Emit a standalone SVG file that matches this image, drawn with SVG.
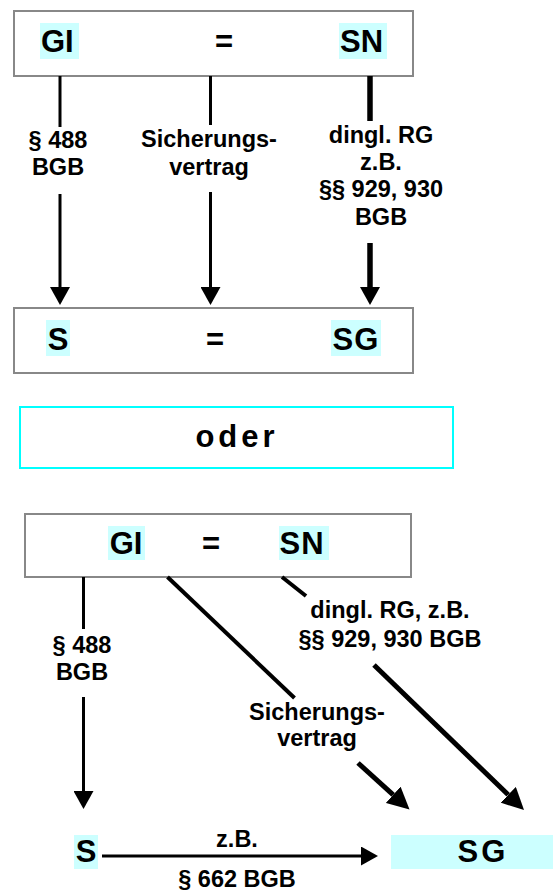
<svg xmlns="http://www.w3.org/2000/svg" width="553" height="893" viewBox="0 0 553 893">
<style>
.box{fill:#fff;stroke:#888;stroke-width:2}
.oder{fill:#fff;stroke:#00ffff;stroke-width:2}
.hl{fill:#ccffff}
.big{font-family:"Liberation Sans",Arial,sans-serif;font-weight:bold;font-size:31px;fill:#000}
.lbl{font-family:"Liberation Sans",Arial,sans-serif;font-weight:bold;font-size:23.5px;fill:#000;text-anchor:middle}
.ln{stroke:#000;fill:none}
</style>
<defs>
<marker id="ah" viewBox="0 0 18 20" refX="0" refY="10" markerWidth="18" markerHeight="20" markerUnits="userSpaceOnUse" orient="auto"><path d="M0,0 L18,10 L0,20 Z" fill="#000"/></marker>
<marker id="ahd" viewBox="0 0 22 22" refX="0" refY="11" markerWidth="22" markerHeight="22" markerUnits="userSpaceOnUse" orient="auto"><path d="M0,0 L22,11 L0,22 Z" fill="#000"/></marker>
<marker id="ahh" viewBox="0 0 17 19" refX="0" refY="9.5" markerWidth="17" markerHeight="19" markerUnits="userSpaceOnUse" orient="auto"><path d="M0,0 L17,9.5 L0,19 Z" fill="#000"/></marker>
</defs>

<g id="top-box">
<rect class="box" x="14" y="11" width="399" height="65"/>
<rect class="hl" x="40" y="23" width="39" height="36"/>
<rect class="hl" x="339" y="23" width="48" height="36"/>
<text class="big" x="41" y="52">GI</text>
<text class="big" x="224" y="52" text-anchor="middle">=</text>
<text class="big" x="340" y="52">SN</text>
</g>

<g id="mid-box">
<rect class="box" x="14" y="308" width="399" height="65"/>
<rect class="hl" x="46" y="320" width="24" height="36"/>
<rect class="hl" x="331" y="320" width="50" height="36"/>
<text class="big" x="58" y="350" text-anchor="middle">S</text>
<text class="big" x="215" y="350" text-anchor="middle">=</text>
<text class="big" x="356" y="350" text-anchor="middle" letter-spacing="1">SG</text>
</g>

<g id="oder-box">
<rect class="oder" x="20" y="407" width="433" height="61"/>
<text class="big" x="237" y="447" text-anchor="middle" font-size="27" letter-spacing="4">oder</text>
</g>

<g id="lower-box">
<rect class="box" x="25" y="514" width="386" height="63"/>
<rect class="hl" x="108" y="526" width="37" height="34"/>
<rect class="hl" x="279" y="526" width="50" height="34"/>
<text class="big" x="126" y="554" text-anchor="middle">GI</text>
<text class="big" x="211" y="554" text-anchor="middle">=</text>
<text class="big" x="302" y="554" text-anchor="middle" letter-spacing="1">SN</text>
</g>

<g id="s-node">
<rect class="hl" x="74" y="835" width="24" height="34"/>
<text class="big" x="86" y="862" text-anchor="middle">S</text>
</g>

<g id="sg-node">
<rect class="hl" x="391" y="835" width="162" height="34"/>
<text class="big" x="483" y="862" text-anchor="middle" letter-spacing="3">SG</text>
</g>

<g id="connectors">
<line class="ln" stroke-width="3" x1="60" y1="76" x2="60" y2="127"/>
<line class="ln" stroke-width="3" x1="60" y1="194" x2="60" y2="287" marker-end="url(#ah)"/>
<line class="ln" stroke-width="3" x1="210.5" y1="76" x2="210.5" y2="125"/>
<line class="ln" stroke-width="3" x1="210.5" y1="192" x2="210.5" y2="287" marker-end="url(#ah)"/>
<line class="ln" stroke-width="5.5" x1="370" y1="76" x2="370" y2="121"/>
<line class="ln" stroke-width="5.5" x1="370" y1="243" x2="370" y2="287" marker-end="url(#ah)"/>

<line class="ln" stroke-width="3" x1="83.5" y1="577" x2="83.5" y2="629"/>
<line class="ln" stroke-width="3" x1="83.5" y1="697" x2="83.5" y2="791" marker-end="url(#ah)"/>
<line class="ln" stroke-width="4" x1="167.5" y1="577" x2="294.5" y2="698"/>
<line class="ln" stroke-width="5" x1="358" y1="763" x2="393.2" y2="794.8" marker-end="url(#ahd)"/>
<line class="ln" stroke-width="4" x1="282" y1="577" x2="306" y2="596"/>
<line class="ln" stroke-width="5" x1="374" y1="665" x2="508.2" y2="794.8" marker-end="url(#ahd)"/>
<line class="ln" stroke-width="3" x1="102" y1="856" x2="361" y2="856" marker-end="url(#ahh)"/>

<text class="lbl" x="58" y="148">§ 488</text>
<text class="lbl" x="58" y="175">BGB</text>
<text class="lbl" x="209" y="147">Sicherungs-</text>
<text class="lbl" x="209" y="175">vertrag</text>
<text class="lbl" x="381" y="143">dingl. RG</text>
<text class="lbl" x="381" y="170">z.B.</text>
<text class="lbl" x="381" y="197">§§ 929, 930</text>
<text class="lbl" x="381" y="225">BGB</text>

<text class="lbl" x="82" y="653">§ 488</text>
<text class="lbl" x="82" y="680">BGB</text>
<text class="lbl" x="317" y="720">Sicherungs-</text>
<text class="lbl" x="317" y="746">vertrag</text>
<text class="lbl" x="390" y="618">dingl. RG, z.B.</text>
<text class="lbl" x="390" y="647">§§ 929, 930 BGB</text>
<text class="lbl" x="237" y="847">z.B.</text>
<text class="lbl" x="237" y="887">§ 662 BGB</text>
</g>
</svg>
